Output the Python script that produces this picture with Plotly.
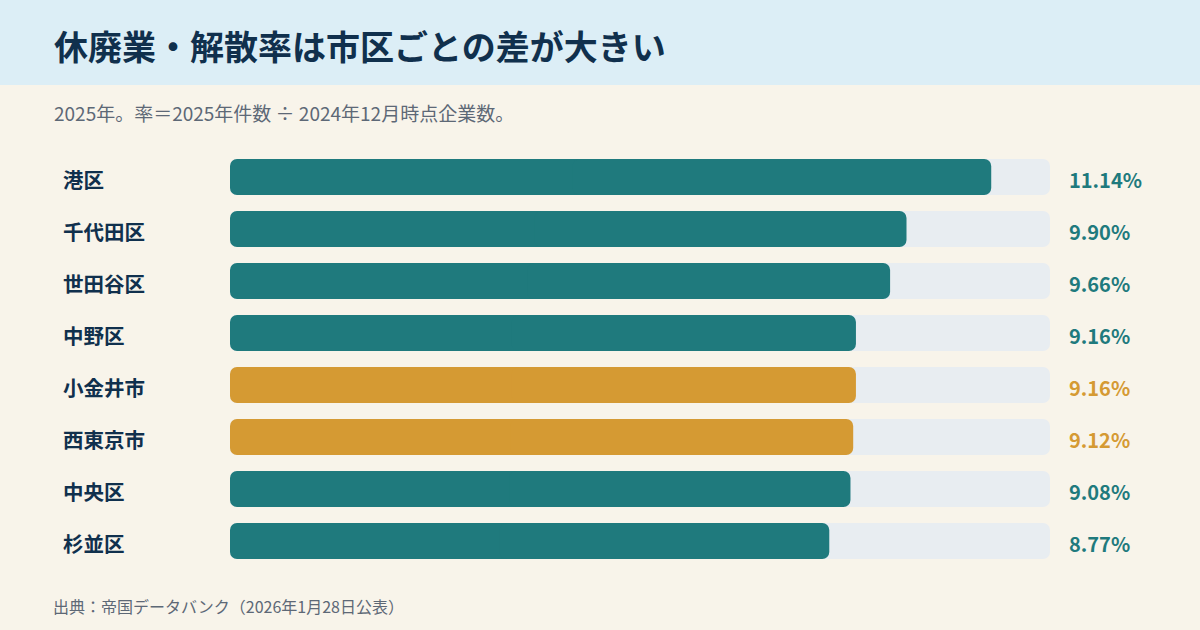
import plotly.graph_objects as go

# data
areas = ["港区", "千代田区", "世田谷区", "中野区", "小金井市", "西東京市", "中央区", "杉並区"]
rates = [11.14, 9.90, 9.66, 9.16, 9.16, 9.12, 9.08, 8.77]
is_city = [False, False, False, False, True, True, False, False]
axis_max = 12.0

TEAL = "#1F7A7D"
GOLD = "#D59A33"
TRACK = "#E8EDF1"
NAVY = "#10304D"
GRAY = "#5D6876"
BG = "#F8F4EA"
HEADER = "#DCEEF6"
FONT = "Noto Sans CJK JP"

colors = [GOLD if c else TEAL for c in is_city]

ROW_PX = 52
BAR_W = 36 / ROW_PX


def rounded_bar(fig, values, color):
    # two overlapping halves, each rounded at its own end -> all four corners rounded
    left = [v * 0.55 for v in values]
    fig.add_trace(go.Bar(
        y=areas, x=[-v for v in left], base=left, orientation="h",
        marker=dict(color=color, line_width=0, cornerradius=7),
        width=BAR_W, hoverinfo="skip", showlegend=False,
    ))
    fig.add_trace(go.Bar(
        y=areas, x=[v * 0.55 for v in values], base=[v * 0.45 for v in values], orientation="h",
        marker=dict(color=color, line_width=0, cornerradius=7),
        width=BAR_W, hoverinfo="skip", showlegend=False,
    ))


fig = go.Figure()
rounded_bar(fig, [axis_max] * len(areas), TRACK)
rounded_bar(fig, rates, colors)

W, H = 1200, 630
ML, MR, MT, MB = 230, 150, 151, 63
plot_w = W - ML - MR
plot_h = H - MT - MB


def px_x(x):
    return (x - ML) / plot_w


def px_y(y):
    return (H - MB - y) / plot_h


annotations = []
for name, r, c in zip(areas, rates, colors):
    annotations.append(dict(
        x=px_x(61), xref="paper", y=name, yref="y", yshift=-2,
        text=f"<b>{name}</b>", showarrow=False, xanchor="left",
        font=dict(family=FONT, size=20.5, color=NAVY),
    ))
    annotations.append(dict(
        x=px_x(1067), xref="paper", y=name, yref="y", yshift=-2,
        text=f"<b>{r:.2f}%</b>", showarrow=False, xanchor="left",
        font=dict(family=FONT, size=20, color=c),
    ))

annotations += [
    dict(x=px_x(52), y=px_y(46), xref="paper", yref="paper", xanchor="left", yanchor="middle",
         text="<b>休廃業・解散率は市区ごとの差が大きい</b>", showarrow=False,
         font=dict(family=FONT, size=34, color=NAVY)),
    dict(x=px_x(52), y=px_y(112), xref="paper", yref="paper", xanchor="left", yanchor="middle",
         text="2025年。率＝2025年件数 ÷ 2024年12月時点企業数。", showarrow=False,
         font=dict(family=FONT, size=19, color=GRAY)),
    dict(x=px_x(51), y=px_y(606), xref="paper", yref="paper", xanchor="left", yanchor="middle",
         text="出典：帝国データバンク（2026年1月28日公表）", showarrow=False,
         font=dict(family=FONT, size=16, color=GRAY)),
]

fig.update_layout(
    width=W, height=H,
    margin=dict(l=ML, r=MR, t=MT, b=MB),
    paper_bgcolor=BG, plot_bgcolor=BG,
    barmode="overlay",
    xaxis=dict(range=[0, axis_max], visible=False, fixedrange=True),
    yaxis=dict(categoryorder="array", categoryarray=areas[::-1], visible=False,
               range=[-0.5, len(areas) - 0.5], fixedrange=True),
    annotations=annotations,
    shapes=[dict(type="rect", xref="paper", yref="paper",
                 x0=px_x(0), x1=px_x(W), y0=px_y(85), y1=px_y(0),
                 fillcolor=HEADER, line_width=0, layer="below")],
    font=dict(family=FONT),
)

fig.write_html("out.html", config={"displayModeBar": False},
               post_script="document.body.style.margin='0';")
